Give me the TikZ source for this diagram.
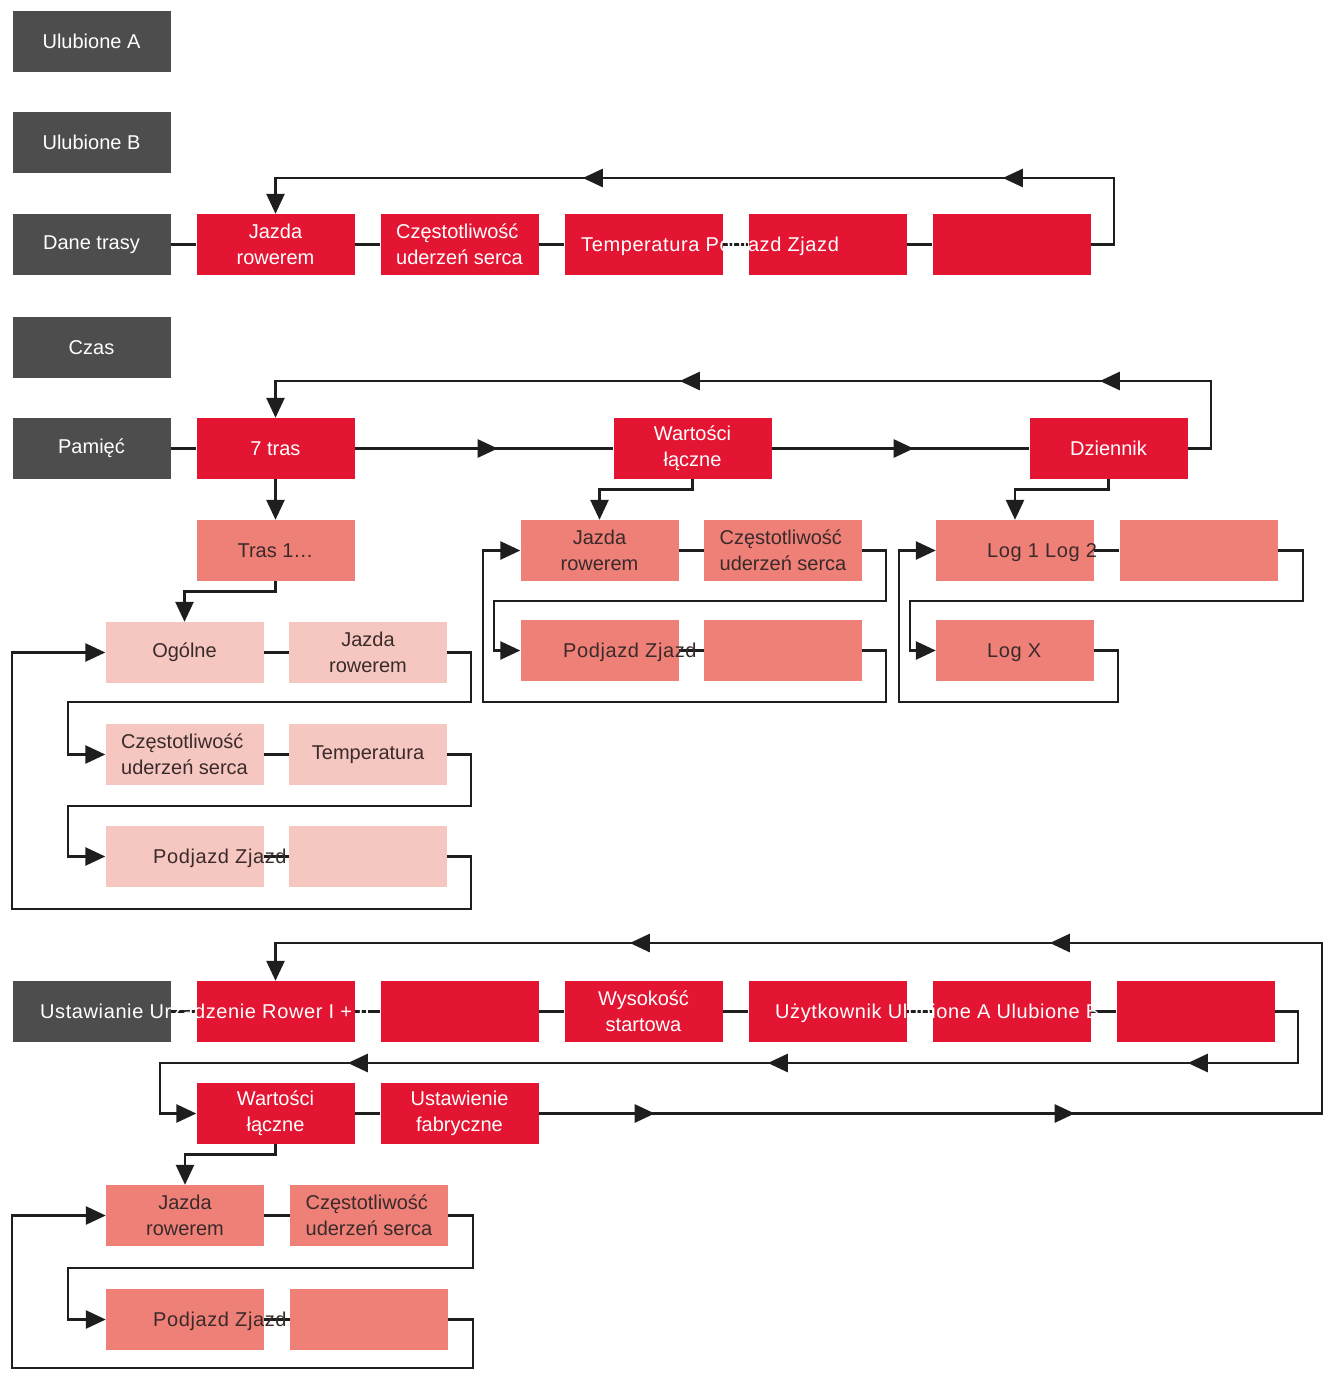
\documentclass[tikz,border=0pt]{standalone}
\usepackage{fontspec}
\setmainfont{Liberation Sans}
\newfontfamily\widefont[LetterSpace=3]{Liberation Sans}
\usetikzlibrary{arrows.meta,decorations.markings}
\definecolor{gboxc}{RGB}{77,77,77}
\definecolor{rboxc}{RGB}{227,21,50}
\definecolor{sboxc}{RGB}{239,128,120}
\definecolor{pboxc}{RGB}{246,199,193}
\definecolor{dtext}{RGB}{58,42,42}
\definecolor{lnc}{RGB}{30,30,30}
\begin{document}
\begin{tikzpicture}[x=1pt,y=-1pt,
  box/.style={rectangle,minimum width=158pt,minimum height=61pt,inner sep=0pt,
    font=\fontsize{20}{26}\selectfont,align=center},
  gbx/.style={box,fill=gboxc,text=white},
  rbx/.style={box,fill=rboxc,text=white},
  sbx/.style={box,fill=sboxc,text=dtext},
  pbx/.style={box,fill=pboxc,text=dtext},
  otx/.style={anchor=base west,inner sep=0pt,font=\widefont\fontsize{20}{26}\selectfont},
  conn/.style={draw=lnc,line width=2.6pt},
  tip/.style={-{Triangle[length=20pt,width=18pt]}},
  mk/.style={postaction={decorate,decoration={markings,
    mark=at position #1 with {\arrow{Triangle[length=20pt,width=18pt]}}}}}]
\fill[white] (0,0) rectangle (1331,1379);
\useasboundingbox (0,0) rectangle (1331,1379);
% left gray column
\node[gbx] (gA) at (91.5,41.5) {Ulubione A};
\node[gbx] (gB) at (91.5,142.5) {Ulubione B};
\node[gbx] (gD) at (91.5,244.5) {Dane trasy};
\node[gbx] (gC) at (91.5,347.5) {Czas};
\node[gbx] (gP) at (91.5,448.5) {Pamięć};
\node[gbx] (gU) at (91.5,1011.5) {};
% Dane trasy row
\node[rbx] (d1) at (275.5,244.5) {Jazda\\rowerem};
\node[rbx,align=left] (d2) at (459.5,244.5) {Częstotliwość\\uderzeń serca};
\node[rbx] (d3) at (643.5,244.5) {};
\node[rbx] (d4) at (827.5,244.5) {};
\node[rbx] (d5) at (1011.5,244.5) {};
% Pamiec row
\node[rbx] (p1) at (275.5,448.5) {7 tras};
\node[rbx] (p2) at (692.5,448.5) {Wartości\\łączne};
\node[rbx] (p3) at (1108.5,448.5) {Dziennik};
\node[sbx] (t1) at (275.5,550.5) {Tras 1…};
\node[pbx] (o1) at (184.5,652.5) {Ogólne};
\node[pbx] (o2) at (368,652.5) {Jazda\\rowerem};
\node[pbx,align=left] (o3) at (184.5,754.5) {Częstotliwość\\uderzeń serca};
\node[pbx] (o4) at (368,754.5) {Temperatura};
\node[pbx] (o5) at (184.5,856.5) {};
\node[pbx] (o6) at (368,856.5) {};
\node[sbx] (w1) at (599.5,550.5) {Jazda\\rowerem};
\node[sbx,align=left] (w2) at (783,550.5) {Częstotliwość\\uderzeń serca};
\node[sbx] (w3) at (599.5,650.5) {};
\node[sbx] (w4) at (783,650.5) {};
\node[sbx] (l1) at (1015,550.5) {};
\node[sbx] (l2) at (1198.5,550.5) {};
\node[sbx] (l3) at (1015,650.5) {};
% Ustawianie rows
\node[rbx] (u1) at (275.5,1011.5) {};
\node[rbx] (u2) at (459.5,1011.5) {};
\node[rbx] (u3) at (643.5,1011.5) {Wysokość\\startowa};
\node[rbx] (u4) at (827.5,1011.5) {};
\node[rbx] (u5) at (1011.5,1011.5) {};
\node[rbx] (u6) at (1195.5,1011.5) {};
\node[rbx] (v1) at (275.5,1113.5) {Wartości\\łączne};
\node[rbx] (v2) at (459.5,1113.5) {Ustawienie\\fabryczne};
\node[sbx] (s1) at (185,1215.5) {Jazda\\rowerem};
\node[sbx,align=left] (s2) at (369,1215.5) {Częstotliwość\\uderzeń serca};
\node[sbx] (s3) at (185,1319.5) {};
\node[sbx] (s4) at (369,1319.5) {};
% connectors: Dane trasy
\draw[conn] (gD) -- (d1);
\draw[conn] (d1) -- (d2);
\draw[conn] (d2) -- (d3);
\draw[conn] (d3) -- (d4);
\draw[conn] (d4) -- (d5);
\draw[conn,tip,mk=201pt,mk=621pt] (d5.east) -| (1114,178) -| (d1.north);
% connectors: Pamiec
\draw[conn] (gP) -- (p1);
\draw[conn,mk=143pt] (p1) -- (p2);
\draw[conn,mk=142pt] (p2) -- (p3);
\draw[conn,tip,mk=202pt,mk=622pt] (p3.east) -| (1211,381) -| (p1.north);
\draw[conn,tip] (p1) -- (t1);
\draw[conn,tip] (t1.south) -- ++(0,10) -| (o1.north);
\draw[conn] (o1) -- (o2);
\draw[conn,tip] (o2.east) -| (471,702) -| (68,754.5) -- (o3.west);
\draw[conn] (o3) -- (o4);
\draw[conn,tip] (o4.east) -| (471,806) -| (68,856.5) -- (o5.west);
\draw[conn] (o5) -- (o6);
\draw[conn,tip] (o6.east) -| (471,909) -| (12,652.5) -- (o1.west);
\draw[conn,tip] (p2.south) -- ++(0,10) -| (w1.north);
\draw[conn] (w1) -- (w2);
\draw[conn,tip] (w2.east) -| (886,601) -| (494,650.5) -- (w3.west);
\draw[conn] (w3) -- (w4);
\draw[conn,tip] (w4.east) -| (886,702) -| (483,550.5) -- (w1.west);
\draw[conn,tip] (p3.south) -- ++(0,10) -| (l1.north);
\draw[conn] (l1) -- (l2);
\draw[conn,tip] (l2.east) -| (1303,601) -| (910,650.5) -- (l3.west);
\draw[conn,tip] (l3.east) -| (1118,702) -| (899,550.5) -- (l1.west);
% connectors: Ustawianie
\draw[conn] (gU) -- (u1);
\draw[conn] (u1) -- (u2);
\draw[conn] (u2) -- (u3);
\draw[conn] (u3) -- (u4);
\draw[conn] (u4) -- (u5);
\draw[conn] (u5) -- (u6);
\draw[conn,tip,mk=185pt,mk=605pt,mk=1025pt] (u6.east) -| (1298,1063) -| (160,1113.5) -- (v1.west);
\draw[conn] (v1) -- (v2);
\draw[conn,tip,mk=116pt,mk=536pt,mk=1226pt,mk=1646pt] (v2.east) -| (1322,943) -| (u1.north);
\draw[conn,tip] (v1.south) -- ++(0,10) -| (s1.north);
\draw[conn] (s1) -- (s2);
\draw[conn,tip] (s2.east) -| (473,1268) -| (68,1319.5) -- (s3.west);
\draw[conn] (s3) -- (s4);
\draw[conn,tip] (s4.east) -| (473,1368) -| (12,1215.5) -- (s1.west);
% overflowing texts
\node[otx,text=white] (tx1) at (40,1018.5) {Ustawianie Urządzenie Rower I + II};
\node[otx,text=white] (tx2) at (581,251.5) {Temperatura Podjazd Zjazd};
\node[otx,text=white] (tx3) at (775,1018.5) {Użytkownik Ulubione A Ulubione B};
\node[otx,text=dtext] (tx4) at (153,863.5) {Podjazd Zjazd};
\node[otx,text=dtext] (tx5) at (563,657.5) {Podjazd Zjazd};
\node[otx,text=dtext] (tx6) at (987,557.5) {Log 1 Log 2};
\node[otx,text=dtext] (tx7) at (987,657.5) {Log X};
\node[otx,text=dtext] (tx8) at (153,1326.5) {Podjazd Zjazd};
\end{tikzpicture}
\end{document}
